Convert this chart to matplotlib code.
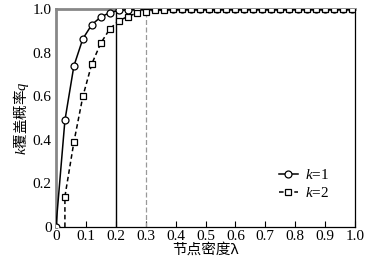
import matplotlib
matplotlib.use("Agg")
import matplotlib.pyplot as plt

plt.rcParams['font.family'] = ['Liberation Serif', 'Noto Sans CJK SC']
plt.rcParams['mathtext.fontset'] = 'custom'
plt.rcParams['mathtext.it'] = 'Liberation Serif:italic'
plt.rcParams['mathtext.rm'] = 'Liberation Serif'

# données
lam = [0.00, 0.03, 0.06, 0.09, 0.12, 0.15, 0.18, 0.21, 0.24, 0.27,
       0.30, 0.33, 0.36, 0.39, 0.42, 0.45, 0.48, 0.51, 0.54, 0.57,
       0.60, 0.63, 0.66, 0.69, 0.72, 0.75, 0.78, 0.81, 0.84, 0.87,
       0.90, 0.93, 0.96, 0.99]
q_k1 = [0.0, 0.49, 0.74, 0.865, 0.93, 0.965, 0.985, 0.995, 0.998, 1.0,
        1.0, 1.0, 1.0, 1.0, 1.0, 1.0, 1.0, 1.0, 1.0, 1.0,
        1.0, 1.0, 1.0, 1.0, 1.0, 1.0, 1.0, 1.0, 1.0, 1.0,
        1.0, 1.0, 1.0, 1.0]
lam_k2 = [0.03] + lam[1:]
q_k2 = [0.0, 0.14, 0.39, 0.60, 0.75, 0.845, 0.91, 0.948, 0.967, 0.983,
        0.99, 0.995, 0.998, 1.0, 1.0, 1.0, 1.0, 1.0, 1.0, 1.0,
        1.0, 1.0, 1.0, 1.0, 1.0, 1.0, 1.0, 1.0, 1.0, 1.0,
        1.0, 1.0, 1.0, 1.0]
seuil1 = 0.2
seuil2 = 0.3

fig = plt.figure(figsize=(3.68, 2.68), dpi=100)
ax = fig.add_axes([0.152, 0.153, 0.813, 0.812])

ax.plot([seuil1, seuil1], [0, 1], color='black', lw=1.0)
ax.plot([seuil2, seuil2], [0, 1], color='#999999', lw=0.9, linestyle='--', dashes=(4, 2))

ax.plot(lam, q_k1, color='black', lw=1.1, marker='o', markersize=5,
        markerfacecolor='white', markeredgecolor='black', markeredgewidth=0.9,
        label='$k$=1', zorder=3)
ax.plot(lam_k2, q_k2, color='black', lw=1.1, linestyle='--', dashes=(3, 2),
        marker='s', markersize=4.5, markerfacecolor='white',
        markeredgecolor='black', markeredgewidth=0.9,
        markevery=list(range(1, len(q_k2))), label='$k$=2', zorder=3)

ax.set_xlim(0, 1)
ax.set_ylim(0, 1)
ax.set_xticks([0, 0.1, 0.2, 0.3, 0.4, 0.5, 0.6, 0.7, 0.8, 0.9, 1.0])
ax.set_xticklabels(['0', '0.1', '0.2', '0.3', '0.4', '0.5', '0.6', '0.7', '0.8', '0.9', '1.0'])
ax.set_yticks([0, 0.2, 0.4, 0.6, 0.8, 1.0])
ax.set_yticklabels(['0', '0.2', '0.4', '0.6', '0.8', '1.0'])
ax.tick_params(axis='x', direction='in', length=4, width=0.8, labelsize=11, pad=2)
ax.tick_params(axis='y', direction='in', length=0, labelsize=11, pad=3)

ax.spines['left'].set_color('#888888')
ax.spines['left'].set_linewidth(2)
ax.spines['top'].set_color('#888888')
ax.spines['top'].set_linewidth(2)
ax.spines['right'].set_color('black')
ax.spines['right'].set_linewidth(0.9)
ax.spines['bottom'].set_color('black')
ax.spines['bottom'].set_linewidth(0.9)

ax.set_xlabel('节点密度λ', fontsize=10.5, family=['Noto Sans CJK SC'], labelpad=0)
ax.set_ylabel('$k$覆盖概率$q$', fontsize=10.5, family=['Noto Sans CJK SC'], labelpad=1)

ax.legend(loc='lower right', bbox_to_anchor=(0.96, 0.06), frameon=False,
          fontsize=11, handlelength=1.2, handletextpad=0.5, labelspacing=0.25)

fig.savefig('out.png', dpi=100)
